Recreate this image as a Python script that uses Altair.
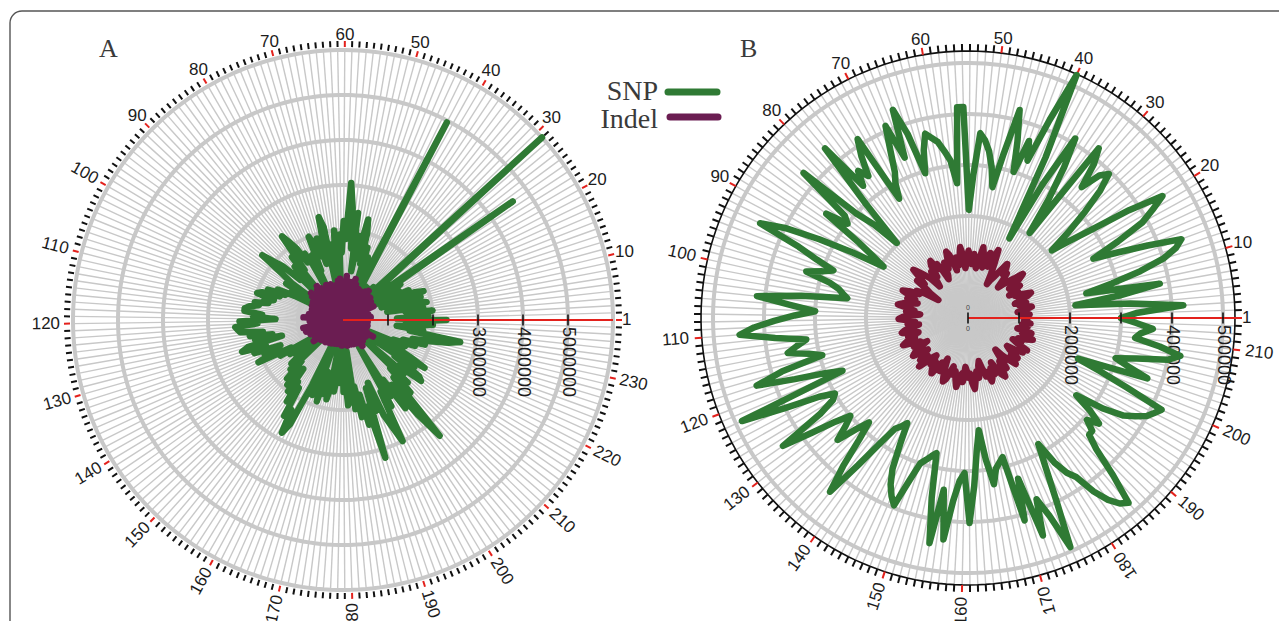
import math
import pandas as pd
import altair as alt

W, H = 1271, 613

# ---------------- Panel A (values in millions) ----------------
A_N = 237
A_SNP_M = [
    2.30, 1.20, 1.90, 1.60, 2.00, 1.40, 1.80, 1.00, 1.90, 1.70,
    1.50, 1.80, 0.90, 1.90, 1.70, 1.20, 1.60, 0.80, 1.40, 1.30,
    1.00, 1.50, 0.70, 4.60, 0.80, 1.20, 0.90, 0.60, 6.00, 0.70,
    0.80, 1.00, 0.60, 0.90, 0.50, 0.80, 0.60, 0.90, 0.70, 0.50,
    0.60, 4.96, 0.70, 1.20, 0.80, 1.50, 1.00, 1.70, 1.30, 2.00,
    2.30, 1.40, 1.90, 1.10, 2.40, 1.60, 2.50, 3.05, 1.80, 2.20,
    1.50, 1.90, 0.60, 2.00, 1.40, 1.70, 0.50, 2.10, 2.35, 1.60,
    1.30, 1.90, 1.50, 1.80, 2.00, 1.20, 1.60, 0.50, 1.40, 1.70,
    1.50, 1.90, 2.10, 2.30, 1.40, 1.80, 0.60, 1.60, 0.50, 1.50,
    1.30, 1.80, 2.00, 2.30, 1.70, 1.40, 0.60, 1.50, 0.40, 1.30,
    0.50, 1.20, 1.60, 1.40, 1.80, 1.50, 1.90, 2.00, 1.60, 1.80,
    1.70, 2.00, 1.90, 2.10, 2.20, 2.20, 1.80, 2.00, 1.50, 2.30,
    1.90, 2.40, 2.35, 2.30, 1.80, 2.10, 1.60, 2.00, 1.40, 2.20,
    2.35, 1.80, 2.10, 1.50, 1.90, 1.70, 2.10, 1.30, 1.60, 0.50,
    1.40, 0.40, 1.30, 0.40, 1.20, 1.50, 0.50, 1.60, 1.30, 1.80,
    1.50, 1.90, 1.40, 2.00, 1.70, 2.20, 1.80, 2.50, 2.30, 2.85,
    2.60, 1.60, 0.60, 1.80, 0.40, 1.50, 1.90, 1.20, 1.70, 1.40,
    1.80, 1.50, 0.50, 1.60, 1.20, 0.40, 1.40, 0.30, 1.60, 1.20,
    1.90, 1.80, 0.70, 2.00, 1.50, 2.20, 1.70, 2.40, 2.00, 3.20,
    1.60, 2.15, 1.50, 2.30, 2.60, 3.00, 1.80, 2.20, 0.70, 2.00,
    1.60, 2.40, 1.80, 2.70, 3.35, 1.70, 2.20, 1.50, 2.00, 0.60,
    1.80, 1.60, 2.20, 2.10, 1.40, 1.90, 0.50, 2.10, 1.70, 1.30,
    1.40, 0.50, 1.50, 1.20, 1.70, 1.40, 1.90, 1.60, 2.00, 2.40,
    2.65, 1.50, 1.80, 1.20, 1.60, 2.00, 1.40,
]
A_INDEL_M = [
    0.55, 0.08, 0.48, 0.12, 0.62, 0.05, 0.44, 0.10, 0.58, 0.06,
    0.50, 0.14, 0.30, 0.04, 0.52, 0.11, 0.74, 0.07, 0.57, 0.13,
    0.64, 0.05, 0.74, 0.12, 0.58, 0.09, 0.78, 0.06, 0.35, 0.15,
    0.72, 0.08, 0.86, 0.04, 0.80, 0.13, 0.63, 0.07, 0.75, 0.16,
    0.58, 0.05, 0.77, 0.11, 0.62, 0.09, 0.84, 0.14, 0.95, 0.06,
    0.74, 0.12, 0.86, 0.05, 0.64, 0.15, 0.98, 0.08, 0.72, 0.13,
    0.82, 0.06, 0.92, 0.14, 0.88, 0.07, 0.66, 0.12, 0.79, 0.04,
    0.62, 0.15, 0.84, 0.08, 0.70, 0.11, 0.86, 0.05, 0.60, 0.13,
    0.78, 0.09, 0.85, 0.06, 0.95, 0.16, 0.88, 0.10, 0.74, 0.05,
    0.66, 0.12, 0.93, 0.07, 0.86, 0.04, 0.70, 0.13, 0.78, 0.08,
    0.64, 0.15, 0.76, 0.06, 0.62, 0.10, 0.73, 0.05, 0.70, 0.12,
    0.66, 0.07, 0.77, 0.14, 0.72, 0.09, 0.88, 0.04, 0.68, 0.11,
    0.74, 0.08, 0.63, 0.15, 0.35, 0.06, 0.90, 0.12, 0.66, 0.09,
    0.86, 0.05, 0.70, 0.13, 0.79, 0.04, 0.64, 0.11, 0.72, 0.07,
    0.60, 0.14, 0.80, 0.08, 0.57, 0.10, 0.66, 0.05, 0.55, 0.13,
    0.54, 0.07, 0.63, 0.04, 0.50, 0.12, 0.60, 0.08, 0.48, 0.10,
    0.58, 0.05, 0.46, 0.13, 0.56, 0.07, 0.44, 0.11, 0.55, 0.06,
    0.42, 0.12, 0.54, 0.05, 0.47, 0.14, 0.57, 0.04, 0.45, 0.09,
    0.55, 0.07, 0.46, 0.13, 0.58, 0.06, 0.43, 0.11, 0.52, 0.08,
    0.57, 0.14, 0.30, 0.05, 0.59, 0.10, 0.48, 0.15, 0.60, 0.06,
    0.50, 0.12, 0.72, 0.07, 0.55, 0.15, 0.64, 0.08, 0.57, 0.04,
    0.61, 0.13, 0.52, 0.06, 0.63, 0.10, 0.54, 0.16, 0.76, 0.05,
    0.58, 0.11, 0.50, 0.08, 0.30, 0.05, 0.47, 0.14, 0.56, 0.09,
    0.53, 0.06, 0.46, 0.12, 0.55, 0.07, 0.44,
]
A_LABELS = [1] + list(range(10, 231, 10))
A_RINGS_M = [1, 2, 3, 4, 5, 6]
A_AXIS_TICKS_M = [1, 2, 3, 4, 5]
A_AXIS_LABELS_M = [3, 4, 5]

# ---------------- Panel B (values in thousands) ----------------
B_N = 213
B_SNP_K = [
    300, 330, 423, 320, 212, 300, 382, 237, 290, 350,
    400, 430, 446, 380, 320, 272, 330, 390, 420, 450,
    380, 300, 250, 211, 260, 310, 360, 395, 380, 340,
    390, 420, 206, 280, 350, 410, 300, 176, 350, 522,
    420, 330, 367, 300, 360, 420, 330, 261, 300, 330,
    350, 363, 280, 212, 414, 414, 265, 310, 330, 350,
    360, 371, 340, 296, 380, 434, 338, 410, 360, 320,
    300, 270, 412, 380, 340, 360, 331, 435, 300, 203,
    260, 300, 430, 314, 300, 345, 260, 221, 194, 260,
    330, 400, 448, 360, 318, 280, 300, 330, 280, 260,
    250, 240, 330, 416, 350, 300, 340, 380, 420, 449,
    380, 320, 340, 360, 320, 295, 380, 435, 360, 300,
    267, 487, 400, 330, 300, 310, 345, 441, 380, 330,
    300, 320, 350, 310, 282, 320, 380, 435, 360, 300,
    260, 250, 238, 280, 330, 360, 380, 395, 340, 300,
    290, 280, 272, 360, 448, 340, 437, 360, 320, 304,
    402, 330, 260, 221, 280, 330, 300, 290, 281, 412,
    330, 451, 380, 420, 492, 400, 330, 283, 330, 360,
    377, 420, 450, 470, 480, 420, 360, 330, 329, 307,
    330, 300, 261, 320, 360, 380, 400, 410, 420, 340,
    280, 230, 371, 330, 300, 340, 400, 423, 380, 330,
    340, 363, 330,
]
B_INDEL_K = [
    112, 106, 121, 109, 98, 115, 127, 113, 104, 118,
    96, 108, 124, 133, 117, 102, 111, 92, 105, 120,
    114, 99, 126, 138, 119, 107, 95, 84, 101, 116,
    109, 123, 131, 112, 97, 88, 76, 98, 121, 146,
    124, 108, 135, 117, 103, 128, 142, 115, 99, 110,
    126, 106, 119, 132, 111, 98, 124, 140, 118, 105,
    121, 96, 113, 129, 137, 115, 104, 118, 92, 85,
    107, 122, 112, 134, 126, 101, 116, 94, 83, 108,
    119, 131, 143, 120, 108, 124, 97, 86, 68, 99,
    114, 106, 127, 139, 121, 110, 125, 103, 117, 131,
    140, 118, 106, 122, 94, 113, 128, 136, 115, 104,
    119, 97, 109, 126, 133, 112, 101, 123, 110, 129,
    138, 116, 104, 120, 92, 107, 124, 131, 114, 100,
    111, 125, 108, 135, 119, 103, 96, 117, 106, 123,
    130, 113, 101, 118, 89, 105, 121, 134, 127, 112,
    99, 115, 107, 124, 137, 118, 110, 126, 96, 104,
    117, 109, 128, 140, 121, 106, 119, 95, 87, 103,
    120, 112, 133, 126, 108, 122, 98, 114, 129, 136,
    117, 105, 124, 96, 82, 101, 116, 130, 122, 111,
    125, 102, 94, 113, 127, 119, 132, 108, 97, 115,
    106, 121, 134, 124, 110, 128, 99, 112, 118, 107,
    123, 110, 116,
]
B_LABELS = [1] + list(range(10, 211, 10))
B_RINGS_K = [100, 200, 300, 400, 500]
B_OUTER_K = 523.5
B_AXIS_TICKS_K = [0, 100, 200, 300, 400, 500]
B_AXIS_LABELS_K = [200, 400, 500]

assert len(A_SNP_M) == A_N and len(A_INDEL_M) == A_N
assert len(B_SNP_K) == B_N and len(B_INDEL_K) == B_N

GREEN = '#2f7a34'
PURPLE = '#6b1d52'
MAROON = '#7a1736'
RED = '#e3211c'
GRID = '#c8c8c8'
TXT = '#1c1c1c'
SANS = 'Liberation Sans'
SERIF = 'Liberation Serif'


def panel(cfg):
    n, cx, cy, k, mult = cfg['n'], cfg['cx'], cfg['cy'], cfg['k'], cfg['mult']
    upx = 1.0 / k  # data units per pixel
    xs = alt.Scale(domain=[-cx * upx, (W - cx) * upx], nice=False, zero=False)
    ys = alt.Scale(domain=[-(H - cy) * upx, cy * upx], nice=False, zero=False)

    def XY(xf='x', yf='y'):
        return {'x': alt.X(f'{xf}:Q', scale=xs, axis=None),
                'y': alt.Y(f'{yf}:Q', scale=ys, axis=None)}

    th = f'(datum.cat - 1) * 2 * PI / {n}'
    outer = cfg['outer'] * mult
    R_px = outer * k
    cats = pd.DataFrame({'cat': list(range(1, n + 1))})
    closed = list(range(1, n + 1)) + [1]
    layers = []

    # spokes
    layers.append(
        alt.Chart(cats).mark_rule(color=GRID, strokeWidth=1.4)
        .transform_calculate(th=th, x0='0', y0='0',
                             x1=f'{outer} * cos(datum.th)', y1=f'{outer} * sin(datum.th)')
        .encode(**XY('x0', 'y0'), x2='x1:Q', y2='y1:Q')
    )
    # grid rings
    ring_df = pd.DataFrame([{'ring': r * mult, 'cat': c, 'o': o}
                            for r in cfg['rings'] for o, c in enumerate(closed)])
    layers.append(
        alt.Chart(ring_df).mark_line(color=GRID, strokeWidth=4)
        .transform_calculate(th=th, x='datum.ring * cos(datum.th)', y='datum.ring * sin(datum.th)')
        .encode(**XY(), detail='ring:N', order='o:Q')
    )
    if cfg['black_ring']:
        bdf = pd.DataFrame([{'ring': outer, 'cat': c, 'o': o} for o, c in enumerate(closed)])
        layers.append(
            alt.Chart(bdf).mark_line(color='#111111', strokeWidth=1.6)
            .transform_calculate(th=th, x='datum.ring * cos(datum.th)', y='datum.ring * sin(datum.th)')
            .encode(**XY(), order='o:Q')
        )
    # outer ticks
    t0, t1 = cfg['tick_px']
    tdf = cats.copy()
    tdf['col'] = [RED if c in cfg['labels'] else '#111111' for c in tdf['cat']]
    layers.append(
        alt.Chart(tdf).mark_rule(strokeWidth=2)
        .transform_calculate(th=th,
                             xa=f'{(R_px + t0) * upx} * cos(datum.th)', ya=f'{(R_px + t0) * upx} * sin(datum.th)',
                             xb=f'{(R_px + t1) * upx} * cos(datum.th)', yb=f'{(R_px + t1) * upx} * sin(datum.th)')
        .encode(**XY('xa', 'ya'), x2='xb:Q', y2='yb:Q', color=alt.Color('col:N', scale=None))
    )
    # category labels
    rows = []
    for lab in cfg['labels']:
        thd = (lab - 1) * 360.0 / n
        t = math.radians(thd)
        s = str(lab)
        hw = len(s) * 4.73
        hh = 6.3
        if thd <= cfg['up_max']:
            ang = 0.0
            ext = cfg['gap_up'] + abs(math.cos(t)) * hw + abs(math.sin(t)) * hh
        elif thd <= cfg['flip_at']:
            ang = 180.0 - thd
            ext = cfg['gap_rad'] + hw
        else:
            ang = 360.0 - thd
            ext = cfg['gap_rad'] + hw
        rr = (R_px + ext) * upx
        rows.append({'lab': s, 'x': rr * math.cos(t), 'y': rr * math.sin(t), 'ang': ang % 360})
    layers.append(
        alt.Chart(pd.DataFrame(rows)).mark_text(font=SANS, fontSize=17, color=TXT,
                                                align='center', baseline='middle')
        .encode(**XY(), text='lab:N', angle=alt.Angle('ang:Q', scale=None))
    )
    # radial axis labels
    al = pd.DataFrame({'v': [v * mult for v in cfg['axis_labels']]})
    al['txt'] = [str(int(round(v))) for v in al['v']]
    al['y'] = 0.0
    layers.append(
        alt.Chart(al).mark_text(font=SANS, fontSize=18, color=TXT, angle=90,
                                align='left', baseline='middle', dx=7)
        .encode(**XY('v', 'y'), text='txt:N')
    )
    # series
    def series(vals, color):
        df = pd.DataFrame({'cat': closed, 'o': list(range(n + 1)),
                           'v': [vals[c - 1] * mult for c in closed]})
        return (alt.Chart(df).mark_line(color=color, strokeWidth=6.5, strokeJoin='round', strokeCap='round')
                .transform_calculate(th=th, x='datum.v * cos(datum.th)', y='datum.v * sin(datum.th)')
                .encode(**XY(), order='o:Q'))
    layers.append(series(cfg['snp'], GREEN))
    layers.append(series(cfg['indel'], cfg['indel_color']))
    # red axis line
    red = pd.DataFrame({'x0': [0.0], 'y0': [0.0], 'x1': [outer], 'y1': [0.0]})
    layers.append(
        alt.Chart(red).mark_rule(color=RED, strokeWidth=1.8)
        .encode(**XY('x0', 'y0'), x2='x1:Q', y2='y1:Q')
    )
    # radial axis ticks
    at = pd.DataFrame({'v': [v * mult for v in cfg['axis_ticks']]})
    at['ya'] = -5.5 * upx
    at['yb'] = 5.5 * upx
    layers.append(
        alt.Chart(at).mark_rule(color='#111111', strokeWidth=1.6)
        .encode(**XY('v', 'ya'), y2='yb:Q')
    )
    if cfg['zero_marks']:
        z = pd.DataFrame({'x': [0.0, 0.0], 'y': [10.5 * upx, -11 * upx], 'txt': ['0', '0']})
        layers.append(
            alt.Chart(z).mark_text(font=SANS, fontSize=7, color='#444444', baseline='middle')
            .encode(**XY(), text='txt:N')
        )
    return layers


A = dict(n=A_N, cx=335, cy=312, k=45 / 1e6, mult=1e6, outer=6, rings=A_RINGS_M,
         black_ring=False, tick_px=(3, 9), labels=A_LABELS, gap_up=9, gap_rad=13,
         up_max=140, flip_at=276,
         axis_labels=A_AXIS_LABELS_M, axis_ticks=A_AXIS_TICKS_M, snp=A_SNP_M, indel=A_INDEL_M,
         indel_color=PURPLE, zero_marks=False)
B = dict(n=B_N, cx=960, cy=310, k=51 / 1e5, mult=1e3, outer=B_OUTER_K, rings=B_RINGS_K,
         black_ring=True, tick_px=(0, 7), labels=B_LABELS, gap_up=7, gap_rad=12,
         up_max=160, flip_at=310,
         axis_labels=B_AXIS_LABELS_K, axis_ticks=B_AXIS_TICKS_K, snp=B_SNP_K, indel=B_INDEL_K,
         indel_color=MAROON, zero_marks=True)

one = pd.DataFrame({'k': [0]})
frame = alt.Chart(one).mark_rect(cornerRadius=12, stroke='#555555', strokeWidth=1.4,
                                 fillOpacity=0).encode(
    x=alt.value(2), x2=alt.value(1320), y=alt.value(3), y2=alt.value(720))

ann = pd.DataFrame({'txt': ['A', 'B'], 'px': [91, 732], 'py': [49, 49]})
titles = alt.Chart(ann).mark_text(font=SERIF, fontSize=26, color='#3a3a3a', align='left',
                                  baseline='alphabetic').encode(
    x=alt.X('px:Q', scale=None), y=alt.Y('py:Q', scale=None), text='txt:N')

leg = pd.DataFrame({'txt': ['SNP', 'Indel'], 'px': [650, 650], 'py': [92, 120]})
leg_text = alt.Chart(leg).mark_text(font=SERIF, fontSize=28, color='#3a3a3a', align='right',
                                    baseline='alphabetic').encode(
    x=alt.X('px:Q', scale=None), y=alt.Y('py:Q', scale=None), text='txt:N')
leg_green = alt.Chart(one).mark_rule(color=GREEN, strokeWidth=7, strokeCap='round').encode(
    x=alt.value(660), x2=alt.value(709), y=alt.value(84))
leg_purple = alt.Chart(one).mark_rule(color=PURPLE, strokeWidth=7, strokeCap='round').encode(
    x=alt.value(662), x2=alt.value(710), y=alt.value(109))

chart = alt.layer(
    frame, *panel(A), *panel(B), titles, leg_text, leg_green, leg_purple
).resolve_scale(x='independent', y='independent').properties(
    width=W, height=H, autosize=alt.AutoSizeParams(type='none'), padding=0
).configure_view(stroke='transparent')

chart.save('out.html', embed_options={'renderer': 'svg', 'actions': False})
